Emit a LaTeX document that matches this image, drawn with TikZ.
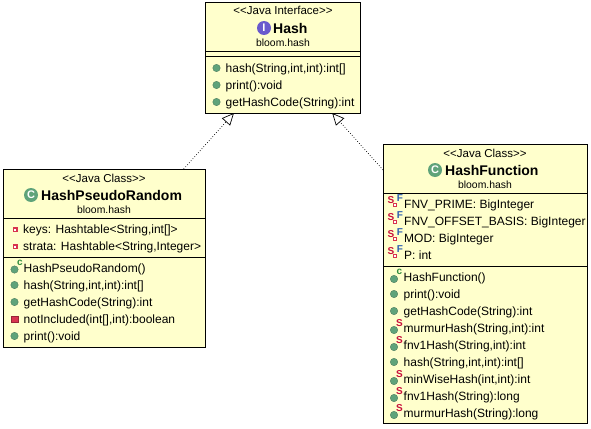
\documentclass[tikz,border=0pt]{standalone}
\usepackage{xcolor}
\usepackage{fontspec}
\setmainfont{Liberation Sans}
\usetikzlibrary{arrows.meta}
\definecolor{umlfill}{HTML}{FFFFCC}
\definecolor{pubgreen}{HTML}{5FA37A}
\definecolor{privred}{HTML}{D8344F}
\definecolor{ifpurple}{HTML}{6A5ACD}
\definecolor{finalblue}{HTML}{2C5FB0}
\definecolor{staticred}{HTML}{C8103C}
\definecolor{ctorgreen}{HTML}{2E8B3C}

\begin{document}
\begin{tikzpicture}[x=1pt,y=-1pt]
\tikzstyle{box}=[rectangle, draw, line width=1pt, fill=umlfill, outer sep=0pt, inner sep=0pt]
\tikzstyle{stereo}=[anchor=base, inner sep=0pt, font=\fontsize{11.5}{12}\selectfont]
\tikzstyle{title}=[anchor=base west, inner sep=0pt, font=\fontsize{14}{14}\selectfont\bfseries]
\tikzstyle{pack}=[anchor=base, inner sep=0pt, font=\fontsize{10.4}{11}\selectfont]
\tikzstyle{member}=[anchor=base west, inner sep=0pt, font=\fontsize{12}{12}\selectfont]
\tikzstyle{badge}=[circle, minimum size=14pt, inner sep=0pt, text=white, font=\fontsize{11}{11}\selectfont\bfseries]
\tikzstyle{pubdot}=[circle, fill=pubgreen, draw=pubgreen!70!black, line width=.3pt, minimum size=7.5pt, inner sep=0pt]
\tikzstyle{privsq}=[rectangle, fill=privred, draw=privred!70!black, line width=.3pt, minimum size=6.5pt, inner sep=0pt]
\tikzstyle{fieldsq}=[rectangle, fill=white, draw=privred, line width=1.6pt, minimum size=3.6pt, inner sep=0pt]
\tikzstyle{flag}=[inner sep=0pt, font=\fontsize{10}{10}\selectfont\bfseries]
\tikzstyle{realizes}=[dotted, line width=.7pt, -{Triangle[open, length=12pt, width=11pt, line width=.7pt]}]

\useasboundingbox (0,0) rectangle (591,428);

% boxes
\node[box, minimum width=155pt, minimum height=110pt] (hash) at (283,58) {};
\node[box, minimum width=202.5pt, minimum height=178pt] (random) at (104.3,258) {};
\node[box, minimum width=204pt, minimum height=279pt] (function) at (485,283.5) {};

% compartments
\draw[line width=1pt] (hash.west |- 0,52) -- (hash.east |- 0,52);
\draw[line width=1pt] (hash.west |- 0,57) -- (hash.east |- 0,57);
\draw[line width=1pt] (random.west |- 0,218) -- (random.east |- 0,218);
\draw[line width=1pt] (random.west |- 0,257) -- (random.east |- 0,257);
\draw[line width=1pt] (function.west |- 0,193) -- (function.east |- 0,193);
\draw[line width=1pt] (function.west |- 0,266) -- (function.east |- 0,266);

% Hash
\node[stereo] (hstereo) at (283,15) {<{}<Java Interface>{}>};
\node[badge, fill=ifpurple] (hbadge) at (264,28) {I};
\node[title] (htitle) at (273,34) {Hash};
\node[pack] (hpack) at (283,47) {bloom.hash};
\node[pubdot] (hd1) at (216.5,68) {};
\node[member] (h1) at (225.5,72) {hash(String,int,int):int[]};
\node[pubdot] (hd2) at (216.5,85) {};
\node[member] (h2) at (225.5,89) {print():void};
\node[pubdot] (hd3) at (216.5,102) {};
\node[member] (h3) at (225.5,106) {getHashCode(String):int};

% HashPseudoRandom
\node[stereo] (rstereo) at (104,182) {<{}<Java Class>{}>};
\node[badge, fill=pubgreen] (rbadge) at (31,195) {C};
\node[title] (rtitle) at (41,200) {HashPseudoRandom};
\node[pack] (rpack) at (104,213) {bloom.hash};
\node[fieldsq] (rs1) at (15.3,229.5) {};
\node[member] (r1) at (23,233) {keys: Hashtable<String,int[]>};
\node[fieldsq] (rs2) at (15.3,246.5) {};
\node[member] (r2) at (23,250) {strata: Hashtable<String,Integer>};
\node[pubdot] (rd3) at (14.5,269.5) {};
\node[flag, text=ctorgreen] (rc3) at (20,263) {c};
\node[member] (r3) at (23.5,272) {HashPseudoRandom()};
\node[pubdot] (rd4) at (14.5,285) {};
\node[member] (r4) at (23.5,289) {hash(String,int,int):int[]};
\node[pubdot] (rd5) at (14.5,302) {};
\node[member] (r5) at (23.5,306) {getHashCode(String):int};
\node[privsq] (rd6) at (14.5,319) {};
\node[member] (r6) at (23.5,323) {notIncluded(int[],int):boolean};
\node[pubdot] (rd7) at (14.5,336) {};
\node[member] (r7) at (23.5,340) {print():void};

% HashFunction
\node[stereo] (fstereo) at (485,157) {<{}<Java Class>{}>};
\node[badge, fill=pubgreen] (fbadge) at (435,170) {C};
\node[title] (ftitle) at (445,175) {HashFunction};
\node[pack] (fpack) at (485,188) {bloom.hash};
\node[fieldsq, minimum size=3pt, line width=1.3pt] (fs1) at (395,205) {};
\node[flag, text=staticred] (fS1) at (391,200) {S};
\node[flag, text=finalblue] (fF1) at (400,198.5) {F};
\node[member] (f1) at (404,208) {FNV\_PRIME: BigInteger};
\node[fieldsq, minimum size=3pt, line width=1.3pt] (fs2) at (395,222) {};
\node[flag, text=staticred] (fS2) at (391,217) {S};
\node[flag, text=finalblue] (fF2) at (400,215.5) {F};
\node[member] (f2) at (404,225) {FNV\_OFFSET\_BASIS: BigInteger};
\node[fieldsq, minimum size=3pt, line width=1.3pt] (fs3) at (395,239) {};
\node[flag, text=staticred] (fS3) at (391,234) {S};
\node[flag, text=finalblue] (fF3) at (400,232.5) {F};
\node[member] (f3) at (404,242) {MOD: BigInteger};
\node[fieldsq, minimum size=3pt, line width=1.3pt] (fs4) at (395,256) {};
\node[flag, text=staticred] (fS4) at (391,251) {S};
\node[flag, text=finalblue] (fF4) at (400,249.5) {F};
\node[member] (f4) at (404,259) {P: int};
\node[pubdot] (fd5) at (394,279) {};
\node[flag, text=ctorgreen] (fc5) at (399.5,272) {c};
\node[member] (f5) at (403.5,281) {HashFunction()};
\node[pubdot] (fd6) at (394,294) {};
\node[member] (f6) at (403.5,298) {print():void};
\node[pubdot] (fd7) at (394,311) {};
\node[member] (f7) at (403.5,315) {getHashCode(String):int};
\node[pubdot] (fd8) at (394,330) {};
\node[flag, text=staticred] (fS8) at (399.5,323.5) {S};
\node[member] (f8) at (403.5,332) {murmurHash(String,int):int};
\node[pubdot] (fd9) at (394,347) {};
\node[flag, text=staticred] (fS9) at (399.5,340.5) {S};
\node[member] (f9) at (403.5,349) {fnv1Hash(String,int):int};
\node[pubdot] (fd10) at (394,362) {};
\node[member] (f10) at (403.5,366) {hash(String,int,int):int[]};
\node[pubdot] (fd11) at (394,381) {};
\node[flag, text=staticred] (fS11) at (399.5,374.5) {S};
\node[member] (f11) at (403.5,383) {minWiseHash(int,int):int};
\node[pubdot] (fd12) at (394,398) {};
\node[flag, text=staticred] (fS12) at (399.5,391.5) {S};
\node[member] (f12) at (403.5,400) {fnv1Hash(String):long};
\node[pubdot] (fd13) at (394,415) {};
\node[flag, text=staticred] (fS13) at (399.5,408.5) {S};
\node[member] (f13) at (403.5,417) {murmurHash(String):long};

\path
(random) edge[realizes] (hash)
(function) edge[realizes] (hash);
\end{tikzpicture}
\end{document}
